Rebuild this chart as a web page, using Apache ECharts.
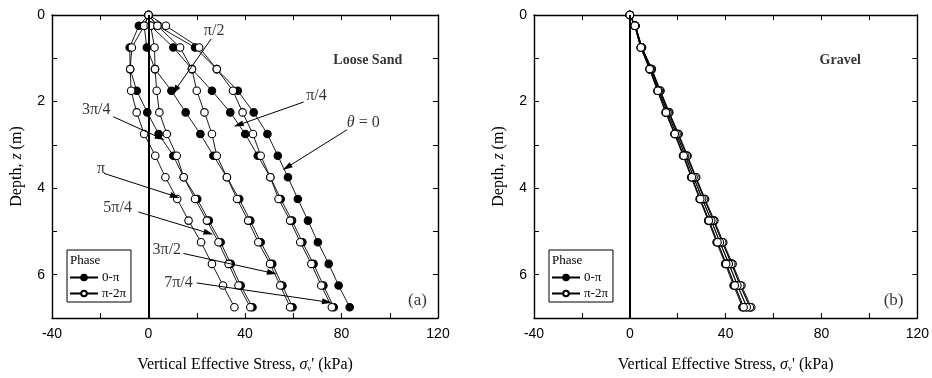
<!DOCTYPE html>
<html>
<head>
<meta charset="utf-8">
<script src="https://cdn.jsdelivr.net/npm/echarts@6/dist/echarts.min.js"></script>
<style>
html,body{margin:0;padding:0;background:#fff;}
#chart{width:932px;height:378px;}
</style>
</head>
<body>
<div id="chart"></div>
<script>
// Depth below the seabed (m) at which stresses were evaluated
const depths = [0, 0.25, 0.75, 1.25, 1.75, 2.25, 2.75, 3.25, 3.75, 4.25, 4.75, 5.25, 5.75, 6.25, 6.75];

// Wave phases; the first four (0..pi) are drawn filled, the rest open
const phaseKeys = ['0', 'π/4', 'π/2', '3π/4', 'π', '5π/4', '3π/2', '7π/4'];

// Loose sand: vertical effective stress (kPa) per phase
const sand0    = [0, 3.7, 19.3, 28.3, 37.0, 43.6, 49.3, 53.6, 57.8, 61.9, 66.1, 70.2, 74.7, 78.8, 83.4];
const sand45   = [0, 0.9, 10.3, 18.0, 26.3, 33.9, 40.1, 45.3, 50.5, 54.8, 59.5, 63.8, 68.4, 72.5, 76.8];
const sand90   = [0, -1.8, -0.7, 2.7, 9.5, 15.4, 21.5, 26.9, 32.5, 37.6, 42.2, 46.5, 51.3, 55.5, 59.7];
const sand135  = [0, -4.0, -7.8, -7.6, -4.9, -0.5, 4.2, 10.3, 14.6, 20.2, 25.0, 29.9, 34.1, 38.2, 43.1];
const sand180  = [0, -1.8, -6.9, -7.6, -7.2, -4.9, -1.8, 2.8, 7.0, 11.9, 16.6, 21.8, 26.3, 30.9, 35.6];
const sand225  = [0, 0.9, 2.5, 2.7, 3.4, 4.5, 7.6, 11.7, 14.6, 19.3, 24.2, 29.0, 33.2, 37.3, 42.2];
const sand270  = [0, 3.7, 13.1, 18.0, 20.0, 23.2, 26.3, 28.3, 32.5, 36.7, 41.3, 45.5, 50.4, 54.6, 58.7];
const sand315  = [0, 7.2, 21.0, 28.3, 35.0, 39.0, 43.3, 46.5, 50.5, 53.9, 58.7, 62.9, 67.5, 71.6, 76.0];

// Gravel: vertical effective stress (kPa) per phase
const gravel0   = [0, 2.0, 4.5, 8.2, 11.5, 14.9, 18.6, 22.2, 25.6, 29.1, 32.7, 36.2, 39.8, 43.3, 47.0];
const gravel45  = [0, 2.1, 4.6, 8.4, 11.7, 15.1, 18.9, 22.5, 25.9, 29.4, 33.1, 36.6, 40.3, 43.8, 47.5];
const gravel90  = [0, 2.2, 4.8, 8.7, 12.2, 15.7, 19.5, 23.2, 26.7, 30.3, 34.0, 37.6, 41.4, 45.0, 48.9];
const gravel135 = [0, 2.3, 5.0, 9.1, 12.6, 16.3, 20.1, 23.8, 27.4, 31.1, 34.9, 38.6, 42.5, 46.1, 50.2];
const gravel180 = [0, 2.4, 5.1, 9.2, 12.8, 16.5, 20.4, 24.1, 27.7, 31.4, 35.3, 39.0, 42.9, 46.6, 50.7];
const gravel225 = [0, 2.3, 5.0, 9.0, 12.6, 16.2, 20.1, 23.8, 27.4, 31.0, 34.9, 38.6, 42.4, 46.1, 50.1];
const gravel270 = [0, 2.2, 4.8, 8.7, 12.1, 15.7, 19.5, 23.1, 26.6, 30.2, 34.0, 37.6, 41.3, 44.9, 48.8];
const gravel315 = [0, 2.1, 4.6, 8.3, 11.7, 15.1, 18.8, 22.5, 25.9, 29.4, 33.0, 36.6, 40.2, 43.8, 47.5];

// Axis ticks
const xTicks = [-40, 0, 40, 80, 120];
const yTicks = [0, 2, 4, 6];

// Legend entries
const legendNames = ['0-π', 'π-2π'];

// Phase labels with arrows on the loose-sand panel: text anchor, arrow tail, arrow head (kPa, m)
const sandNotes = [
  { text: 'π/2',  at: [27.2, 0.36], from: [26.0, 0.55], to: [11.0, 1.74] },
  { text: 'π/4',  at: [69.6, 1.86], from: [64.3, 2.01], to: [37.3, 2.54] },
  { text: '{i|θ} = 0', at: [89.0, 2.50], from: [82.3, 2.65], to: [57.4, 3.52] },
  { text: '3π/4', at: [-21.7, 2.18], from: [-14.6, 2.35], to: [4.8, 2.84] },
  { text: 'π',    at: [-19.7, 3.56], from: [-18.4, 3.66], to: [11.0, 4.19] },
  { text: '5π/4', at: [-12.8, 4.45], from: [-4.2, 4.55], to: [24.9, 5.04] },
  { text: '3π/2', at: [7.6, 5.42],   from: [14.5, 5.51], to: [51.2, 5.96] },
  { text: '7π/4', at: [12.4, 6.19],  from: [20.0, 6.19], to: [74.0, 6.63] }
];

const SERIF = '"Liberation Serif", "Times New Roman", serif';
const SANS = '"Liberation Sans", Arial, sans-serif';

const panels = [
  { left: 52, title: 'Loose Sand', tag: '(a)', titleAt: [90.9, 1.05], tagAt: [111.5, 6.59],
    sets: [sand0, sand45, sand90, sand135, sand180, sand225, sand270, sand315], notes: sandNotes },
  { left: 534, title: 'Gravel', tag: '(b)', titleAt: [87.8, 1.05], tagAt: [110.1, 6.59],
    sets: [gravel0, gravel45, gravel90, gravel135, gravel180, gravel225, gravel270, gravel315], notes: [] }
];

const grid = [], xAxis = [], yAxis = [], series = [], legend = [], graphic = [];

const richName = {
  i: { fontStyle: 'italic', fontFamily: SERIF, fontSize: 16, color: '#000' },
  s: { fontFamily: SERIF, fontSize: 8, color: '#000', padding: [8, 0, 0, 0] }
};

panels.forEach((p, g) => {
  grid.push({ left: p.left, top: 15, width: 386, height: 308 });
  const baseX = {
    gridIndex: g, type: 'value', min: -40, max: 120, interval: 20,
    axisLine: { onZero: false, lineStyle: { color: '#000', width: 1.4 } },
    axisTick: { inside: true, length: 5, lineStyle: { color: '#000', width: 1 } },
    splitLine: { show: false }
  };
  xAxis.push(Object.assign({}, baseX, {
    position: 'bottom',
    axisLabel: { color: '#000', fontFamily: SANS, fontSize: 14, margin: 9,
      formatter: v => (xTicks.indexOf(v) >= 0 ? String(v) : '') },
    name: 'Vertical Effective Stress, {i|σ}{s|v}\' (kPa)',
    nameLocation: 'middle', nameGap: 39,
    nameTextStyle: { color: '#000', fontFamily: SERIF, fontSize: 16, rich: richName }
  }));
  xAxis.push(Object.assign({}, baseX, { position: 'top', axisLabel: { show: false } }));
  const baseY = {
    gridIndex: g, type: 'value', inverse: true, min: 0, max: 7, interval: 1,
    axisLine: { onZero: false, lineStyle: { color: '#000', width: 1.4 } },
    axisTick: { inside: true, length: 5, lineStyle: { color: '#000', width: 1 } },
    splitLine: { show: false }
  };
  yAxis.push(Object.assign({}, baseY, {
    position: 'left',
    axisLabel: { color: '#000', fontFamily: SANS, fontSize: 14, margin: 7,
      formatter: v => (yTicks.indexOf(v) >= 0 ? String(v) : '') },
    name: 'Depth, {i|z} (m)', nameLocation: 'middle', nameGap: 27,
    nameTextStyle: { color: '#000', fontFamily: SERIF, fontSize: 16, rich: richName }
  }));
  yAxis.push(Object.assign({}, baseY, { position: 'right', axisLabel: { show: false } }));

  const xi = g * 2, yi = g * 2;

  // vertical line at zero stress
  series.push({
    type: 'line', xAxisIndex: xi, yAxisIndex: yi, data: [], silent: true,
    markLine: { silent: true, symbol: 'none', label: { show: false },
      lineStyle: { color: '#000', width: 2, type: 'solid' }, data: [{ xAxis: 0 }] }
  });

  // stress profiles, filled phases first so open markers sit on top
  p.sets.forEach((vals, k) => {
    const filled = k < 4;
    series.push({
      type: 'line', name: filled ? legendNames[0] : legendNames[1],
      xAxisIndex: xi, yAxisIndex: yi,
      data: depths.map((d, i) => [vals[i], d]),
      symbol: 'circle', symbolSize: 7.5, showAllSymbol: true,
      clip: false,
      lineStyle: { color: '#000', width: 0.9 },
      itemStyle: { color: filled ? '#000' : '#fff', borderColor: '#000', borderWidth: 1.1 },
      emphasis: { disabled: true }, animation: false
    });
  });

  // panel title, tag, phase notes
  const textData = [
    { value: p.titleAt, label: { formatter: p.title, fontWeight: 'bold', fontSize: 14 } },
    { value: p.tagAt, label: { formatter: p.tag, fontSize: 17 } }
  ].concat(p.notes.map(n => ({ value: n.at, label: { formatter: n.text, fontSize: 16 } })));
  series.push({
    type: 'scatter', xAxisIndex: xi, yAxisIndex: yi, silent: true, animation: false,
    symbol: 'circle', symbolSize: 1, itemStyle: { color: 'rgba(0,0,0,0)' },
    data: textData,
    label: { show: true, position: 'inside', color: '#000', fontFamily: SERIF,
      align: 'center', verticalAlign: 'middle',
      rich: { i: { fontStyle: 'italic', fontFamily: SERIF, fontSize: 16, color: '#000' } } },
    markLine: {
      silent: true, symbol: ['none', 'triangle'], symbolSize: [6, 10], label: { show: false },
      lineStyle: { color: '#000', width: 1, type: 'solid' },
      data: p.notes.map(n => [{ coord: n.from }, { coord: n.to }])
    }
  });

  legend.push({
    data: legendNames, orient: 'vertical', left: p.left + 15, top: 250,
    itemWidth: 28, itemHeight: 7, itemGap: 3,
    padding: [21, 5, 2, 2], borderColor: '#000', borderWidth: 1,
    textStyle: { color: '#000', fontFamily: SERIF, fontSize: 13, padding: [0, 0, 0, -1] },
    selectedMode: false
  });
  graphic.push({
    type: 'text', left: p.left + 18, top: 254,
    style: { text: 'Phase', fill: '#000', font: '13px ' + SERIF }
  });
});

const chart = echarts.init(document.getElementById('chart'), null, { renderer: 'canvas' });
chart.setOption({
  animation: false,
  backgroundColor: '#fff',
  grid, xAxis, yAxis, series, legend, graphic
});
</script>
</body>
</html>
